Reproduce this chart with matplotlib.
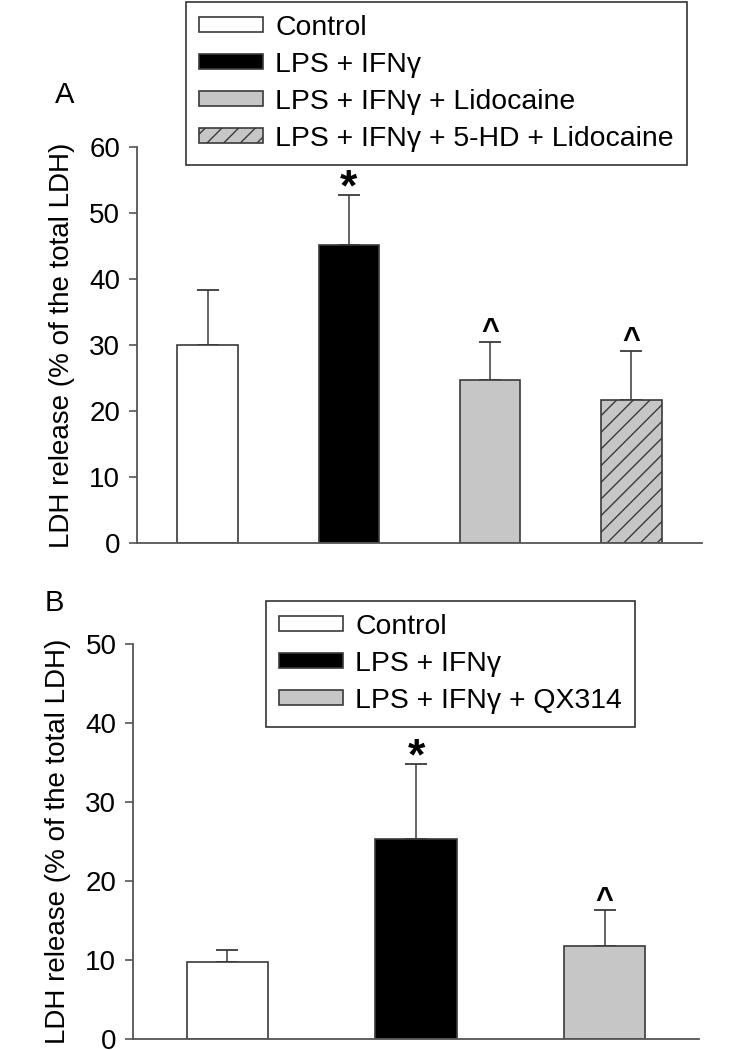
import matplotlib
matplotlib.use("Agg")
import matplotlib.pyplot as plt
import numpy as np

plt.rcParams["font.family"] = ["Liberation Sans", "DejaVu Sans"]
plt.rcParams["hatch.linewidth"] = 1.0

# Panel A data
labels_a = ["Control", "LPS + IFNγ", "LPS + IFNγ + Lidocaine", "LPS + IFNγ + 5-HD + Lidocaine"]
means_a = [30.0, 45.1, 24.7, 21.7]
err_a = [8.3, 7.6, 5.8, 7.4]
marks_a = ["", "*", "^", "^"]

# Panel B data
labels_b = ["Control", "LPS + IFNγ", "LPS + IFNγ + QX314"]
means_b = [9.7, 25.3, 11.8]
err_b = [1.6, 9.5, 4.5]
marks_b = ["", "*", "^"]

fills = ["white", "black", "#c6c6c6", "#c6c6c6"]
hatches = [None, None, None, "//"]
edge = "#3a3a3a"
axcol = "#555555"

fig = plt.figure(figsize=(7.52, 10.5), dpi=100)
ax_a = fig.add_axes([0.1822, 0.4829, 0.7513, 0.3771])
ax_b = fig.add_axes([0.1769, 0.0105, 0.7526, 0.3762])


def draw_panel(ax, means, errs, marks, labels, ylim, letter, letter_xy, leg_box):
    x = np.arange(len(means))
    bars = []
    for i in range(len(means)):
        b = ax.bar(x[i], means[i], width=0.43, color=fills[i], edgecolor=edge,
                   linewidth=1.2, hatch=hatches[i], label=labels[i], zorder=2)
        bars.append(b)
        ax.errorbar(x[i], means[i], yerr=[[0], [errs[i]]], fmt="none",
                    ecolor=edge, elinewidth=1.1, capsize=8, capthick=1.3, zorder=1)
        if marks[i] == "*":
            ax.annotate("*", (x[i], means[i] + errs[i]), xytext=(0, -10.5),
                        textcoords="offset points", ha="center", va="bottom",
                        fontsize=32, fontweight="bold")
        elif marks[i]:
            ax.annotate(marks[i], (x[i], means[i] + errs[i]), xytext=(0, -4),
                        textcoords="offset points", ha="center", va="bottom",
                        fontsize=22, fontweight="bold")
    ax.set_xlim(-0.5, len(means) - 0.5)
    ax.set_ylim(*ylim)
    ax.set_xticks([])
    ax.spines["top"].set_visible(False)
    ax.spines["right"].set_visible(False)
    for s in ["left", "bottom"]:
        ax.spines[s].set_color(axcol)
        ax.spines[s].set_linewidth(1.3)
    ax.tick_params(axis="y", direction="out", length=6, width=1.2, color=axcol,
                   labelsize=20, pad=6)
    ax.set_ylabel("LDH release (% of the total LDH)", fontsize=20, labelpad=10)
    fig.text(letter_xy[0], letter_xy[1], letter, fontsize=21, ha="center", va="center")
    leg = fig.legend(handles=bars, labels=labels, loc="upper left",
                     bbox_to_anchor=leg_box, fontsize=20.4, frameon=True,
                     fancybox=False, edgecolor="#333333", framealpha=1,
                     handlelength=2.25, handleheight=0.45, handletextpad=0.45,
                     labelspacing=0.39, borderpad=0.45, borderaxespad=0)
    leg.get_frame().set_linewidth(1.2)


draw_panel(ax_a, means_a, err_a, marks_a, labels_a, (0, 60), "A",
           (65 / 752, 1 - 95 / 1050), (186 / 752, 1 - 2 / 1050))
draw_panel(ax_b, means_b, err_b, marks_b, labels_b, (0, 50), "B",
           (54 / 752, 1 - 603 / 1050), (266 / 752, 1 - 601 / 1050))
ax_a.set_yticks(range(0, 61, 10))
ax_b.set_yticks(range(0, 51, 10))

fig.savefig("out.png", dpi=100)
